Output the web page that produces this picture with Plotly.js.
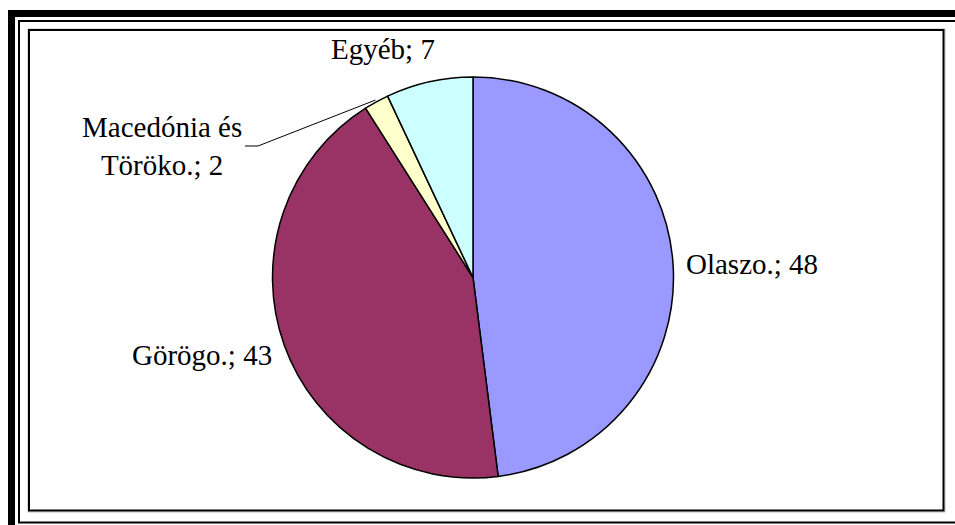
<!DOCTYPE html>
<html>
<head>
<meta charset="utf-8">
<script src="https://cdn.plot.ly/plotly-3.0.1.min.js"></script>
<style>html,body{margin:0;padding:0;background:#fff;}#chart{width:955px;height:525px;}</style>
</head>
<body>
<div id="chart"></div>
<script>
// ---- data ----
const labels = ['Olaszo.', 'Görögo.', 'Macedónia és Töröko.', 'Egyéb'];
const displayLabels = ['Olaszo.', 'Görögo.', 'Macedónia és<br>Töröko.', 'Egyéb'];
const values = [48, 43, 2, 7];
const colors = ['#9999FF', '#993366', '#FFFFCC', '#CCFFFF'];

// ---- geometry / style ----
const W = 955, H = 525;
const CX = 473, CY = 277.5, R = 200.5;
const px2x = p => p / W;
const px2y = p => 1 - p / H;

// label placement style per slice
const labelStyle = [
  {mode: 'auto', xanchor: 'left', yanchor: 'middle', xshift: 0, yshift: 0},
  {mode: 'auto', xanchor: 'right', yanchor: 'middle', xshift: 0, yshift: -6},
  {mode: 'manual', px: 162, py: 146, leaderFrom: [245, 146], leaderBend: [258, 146]},
  {mode: 'auto', xanchor: 'right', yanchor: 'bottom', xshift: 10, yshift: 4}
];
const labelOffset = 11;
const font = {family: 'Times New Roman, Liberation Serif, DejaVu Serif, serif', size: 29, color: '#000'};

const total = values.reduce((a, b) => a + b, 0);
let cum = 0;
const annotations = [];
const shapes = [];
values.forEach((v, i) => {
  const theta = (cum + v / 2) / total * 2 * Math.PI;
  cum += v;
  const st = labelStyle[i];
  const text = displayLabels[i] + '; ' + v;
  if (st.mode === 'auto') {
    const d = R + labelOffset;
    const px = CX + d * Math.sin(theta), py = CY - d * Math.cos(theta);
    annotations.push({x: px2x(px), y: px2y(py), xref: 'paper', yref: 'paper', text: text,
      showarrow: false, xanchor: st.xanchor, yanchor: st.yanchor, xshift: st.xshift, yshift: st.yshift,
      font: font, align: 'center'});
  } else {
    annotations.push({x: px2x(st.px), y: px2y(st.py), xref: 'paper', yref: 'paper', text: text,
      showarrow: false, xanchor: 'center', yanchor: 'middle', font: font, align: 'center'});
    const ex = CX + (R + 2) * Math.sin(theta), ey = CY - (R + 2) * Math.cos(theta);
    shapes.push({type: 'path', xref: 'paper', yref: 'paper',
      path: 'M ' + px2x(st.leaderFrom[0]) + ' ' + px2y(st.leaderFrom[1]) +
            ' L ' + px2x(st.leaderBend[0]) + ' ' + px2y(st.leaderBend[1]) +
            ' L ' + px2x(ex) + ' ' + px2y(ey),
      line: {color: '#000', width: 1}});
  }
});

// frame borders
shapes.push({type: 'rect', xref: 'paper', yref: 'paper', x0: px2x(11.5), y0: px2y(533), x1: px2x(965), y1: px2y(13.5),
  line: {color: '#000', width: 7}});
shapes.push({type: 'rect', xref: 'paper', yref: 'paper', x0: px2x(19), y0: px2y(522.5), x1: px2x(965), y1: px2y(21),
  line: {color: '#000', width: 2}});
shapes.push({type: 'rect', xref: 'paper', yref: 'paper', x0: px2x(28), y0: px2y(512), x1: px2x(945), y1: px2y(29),
  line: {color: '#BBBBBB', width: 1}});
shapes.push({type: 'rect', xref: 'paper', yref: 'paper', x0: px2x(29), y0: px2y(510.5), x1: px2x(943.5), y1: px2y(30),
  line: {color: '#000', width: 2}});

const trace = {
  type: 'pie',
  labels: labels,
  values: values,
  sort: false,
  direction: 'clockwise',
  rotation: 0,
  textinfo: 'none',
  hoverinfo: 'label+value',
  marker: {colors: colors, line: {color: '#000', width: 1.5}},
  domain: {x: [px2x(CX - R), px2x(CX + R)], y: [px2y(CY + R), px2y(CY - R)]},
  showlegend: false
};

const layout = {
  width: W, height: H,
  margin: {l: 0, r: 0, t: 0, b: 0},
  font: font,
  paper_bgcolor: '#fff',
  plot_bgcolor: '#fff',
  showlegend: false,
  annotations: annotations,
  shapes: shapes
};

Plotly.newPlot('chart', [trace], layout, {displayModeBar: false, staticPlot: true});
</script>
</body>
</html>
